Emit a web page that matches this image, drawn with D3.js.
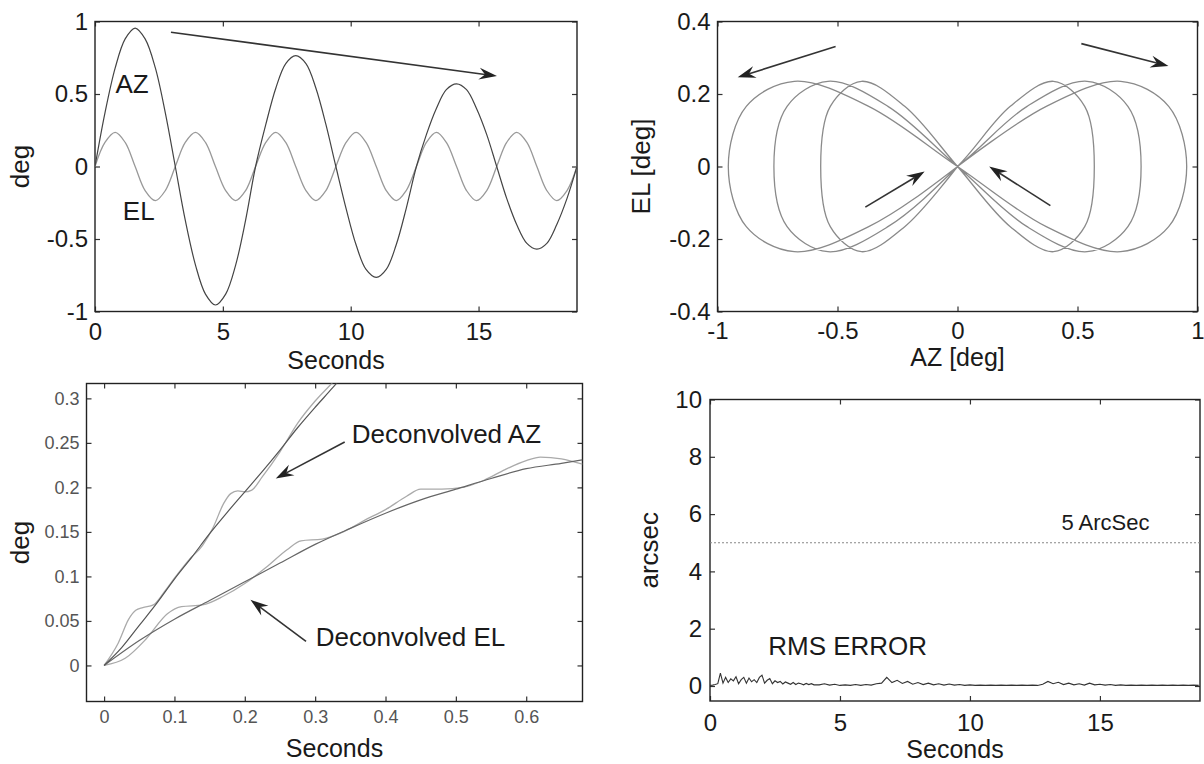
<!DOCTYPE html>
<html>
<head>
<meta charset="utf-8">
<script src="https://cdn.jsdelivr.net/npm/d3@7"></script>
<style>
  body { margin: 0; background: #fff; }
  svg { display: block; }
</style>
</head>
<body>
<svg width="1204" height="764"></svg>
<script>
// --- top panels: AZ / EL command, sampled every pi/8 s ---
var cmdTime = [0, 0.39, 0.79, 1.18, 1.57, 1.96, 2.36, 2.75, 3.14, 3.53, 3.93, 4.32, 4.71, 5.11, 5.50, 5.89,
    6.28, 6.68, 7.07, 7.46, 7.85, 8.25, 8.64, 9.03, 9.42, 9.82, 10.21, 10.60, 11.00, 11.39, 11.78, 12.17,
    12.57, 12.96, 13.35, 13.74, 14.14, 14.53, 14.92, 15.32, 15.71, 16.10, 16.49, 16.89, 17.28, 17.67, 18.06, 18.46, 18.85];
var cmdAZ = [0, 0.37, 0.68, 0.88, 0.955, 0.88, 0.68, 0.37, 0, -0.37, -0.68, -0.88, -0.955, -0.88, -0.68, -0.37,
    0, 0.29, 0.54, 0.71, 0.765, 0.71, 0.54, 0.29, 0, -0.29, -0.54, -0.71, -0.765, -0.71, -0.54, -0.29,
    0, 0.22, 0.40, 0.53, 0.57, 0.53, 0.40, 0.22, 0, -0.22, -0.40, -0.53, -0.57, -0.53, -0.40, -0.22, 0];
var cmdEL = [0, 0.166, 0.235, 0.166, 0, -0.166, -0.235, -0.166, 0, 0.166, 0.235, 0.166, 0, -0.166, -0.235, -0.166,
    0, 0.166, 0.235, 0.166, 0, -0.166, -0.235, -0.166, 0, 0.166, 0.235, 0.166, 0, -0.166, -0.235, -0.166,
    0, 0.166, 0.235, 0.166, 0, -0.166, -0.235, -0.166, 0, 0.166, 0.235, 0.166, 0, -0.166, -0.235, -0.166, 0];

// --- bottom left: deconvolved responses (two traces each) ---
var azDarkT = [0, 0.025, 0.05, 0.075, 0.1, 0.125, 0.15, 0.175, 0.2, 0.225, 0.25, 0.275, 0.3, 0.325, 0.35];
var azDarkV = [0, 0.02, 0.045, 0.07, 0.097, 0.122, 0.148, 0.172, 0.195, 0.218, 0.242, 0.267, 0.29, 0.312, 0.335];
var azLightT = [0, 0.02, 0.035, 0.045, 0.055, 0.07, 0.085, 0.1, 0.12, 0.14, 0.155, 0.17, 0.18, 0.19, 0.2, 0.21, 0.225, 0.25, 0.275, 0.3, 0.325, 0.35];
var azLightV = [0, 0.025, 0.052, 0.062, 0.065, 0.068, 0.082, 0.098, 0.118, 0.135, 0.155, 0.182, 0.193, 0.196, 0.195, 0.197, 0.212, 0.24, 0.272, 0.297, 0.318, 0.34];
var elDarkT = [0, 0.05, 0.1, 0.15, 0.2, 0.25, 0.3, 0.35, 0.4, 0.45, 0.5, 0.55, 0.6, 0.65, 0.68];
var elDarkV = [0, 0.028, 0.052, 0.073, 0.094, 0.115, 0.136, 0.154, 0.171, 0.186, 0.198, 0.21, 0.221, 0.227, 0.231];
var elLightT = [0, 0.03, 0.06, 0.09, 0.11, 0.14, 0.17, 0.2, 0.23, 0.26, 0.28, 0.31, 0.34, 0.37, 0.4, 0.43, 0.45, 0.48, 0.51, 0.54, 0.57, 0.6, 0.62, 0.65, 0.68];
var elLightV = [0, 0.008, 0.03, 0.058, 0.066, 0.068, 0.078, 0.092, 0.11, 0.13, 0.14, 0.142, 0.15, 0.163, 0.175, 0.19, 0.198, 0.198, 0.2, 0.208, 0.22, 0.23, 0.234, 0.232, 0.226];

// --- bottom right: rms error (arcsec), 0.1 s steps at the start then 0.2 s ---
var rmsTime = [0, 0.1, 0.2, 0.3, 0.4, 0.5, 0.6, 0.7, 0.8, 0.9, 1.0, 1.1, 1.2, 1.3, 1.4, 1.5, 1.6, 1.7, 1.8, 1.9,
    2.0, 2.1, 2.2, 2.3, 2.4, 2.5, 2.6, 2.7, 2.8, 2.9, 3.0, 3.1, 3.2, 3.3, 3.4, 3.5, 3.6, 3.7, 3.8, 3.9, 4.0,
    4.2, 4.4, 4.6, 4.8, 5.0, 5.2, 5.4, 5.6, 5.8, 6.0, 6.2, 6.4, 6.6, 6.8, 7.0, 7.2, 7.4, 7.6, 7.8,
    8.0, 8.2, 8.4, 8.6, 8.8, 9.0, 9.2, 9.4, 9.6, 9.8, 10.0, 10.2, 10.4, 10.6, 10.8, 11.0, 11.2, 11.4, 11.6, 11.8,
    12.0, 12.2, 12.4, 12.6, 12.8, 13.0, 13.2, 13.4, 13.6, 13.8, 14.0, 14.2, 14.4, 14.6, 14.8, 15.0, 15.2, 15.4, 15.6, 15.8,
    16.0, 16.2, 16.4, 16.6, 16.8, 17.0, 17.2, 17.4, 17.6, 17.8, 18.0, 18.2, 18.4, 18.6, 18.8];
var rmsVal = [0.02, 0.03, 0.05, 0.08, 0.45, 0.10, 0.30, 0.12, 0.25, 0.18, 0.32, 0.08, 0.22, 0.30, 0.10, 0.28, 0.15, 0.22, 0.12, 0.30,
    0.38, 0.10, 0.20, 0.26, 0.08, 0.18, 0.12, 0.16, 0.07, 0.14, 0.10, 0.06, 0.12, 0.05, 0.10, 0.08, 0.04, 0.09, 0.05, 0.08, 0.04,
    0.04, 0.08, 0.03, 0.06, 0.02, 0.04, 0.02, 0.05, 0.02, 0.05, 0.03, 0.08, 0.10, 0.30, 0.12, 0.20, 0.09, 0.16, 0.06,
    0.12, 0.05, 0.10, 0.04, 0.08, 0.03, 0.07, 0.03, 0.05, 0.02, 0.04, 0.02, 0.03, 0.02, 0.03, 0.02, 0.03, 0.02, 0.03, 0.02,
    0.03, 0.02, 0.03, 0.02, 0.06, 0.16, 0.08, 0.13, 0.05, 0.10, 0.04, 0.08, 0.03, 0.10, 0.04, 0.06, 0.03, 0.05, 0.02, 0.04,
    0.02, 0.03, 0.02, 0.03, 0.02, 0.03, 0.02, 0.03, 0.02, 0.03, 0.02, 0.03, 0.02, 0.03, 0.02];
var limitArcsec = 5;

// tick labels
var secTicks = [0, 5, 10, 15];
var degTicks = [-1, -0.5, 0, 0.5, 1];
var azTicks = [-1, -0.5, 0, 0.5, 1];
var elTicks = [-0.4, -0.2, 0, 0.2, 0.4];
var decSecTicks = [0, 0.1, 0.2, 0.3, 0.4, 0.5, 0.6];
var decDegTicks = [0, 0.05, 0.1, 0.15, 0.2, 0.25, 0.3];
var arcTicks = [0, 2, 4, 6, 8, 10];


var svg = d3.select("svg"),
    font = '"Liberation Sans", Arial, Helvetica, sans-serif';

function makePanel(p) {
    var g = svg.append("g");
    var x = d3.scaleLinear().domain(p.xDomain).range([p.left, p.right]);
    var y = d3.scaleLinear().domain(p.yDomain).range([p.bottom, p.top]);
    var fmt = p.format || function(d) { return String(d); };

    g.append("clipPath").attr("id", p.id + "-clip")
        .append("rect")
        .attr("x", p.left).attr("y", p.top)
        .attr("width", p.right - p.left).attr("height", p.bottom - p.top);

    // matlab style, ticks inward on all four sides
    g.append("g").attr("transform", "translate(0," + p.bottom + ")")
        .call(d3.axisBottom(x).tickValues(p.xTicks).tickSize(-5).tickPadding(p.xPad).tickFormat(fmt));
    g.append("g").attr("transform", "translate(0," + p.top + ")")
        .call(d3.axisTop(x).tickValues(p.xTicks).tickSize(-5).tickFormat(""));
    g.append("g").attr("transform", "translate(" + p.left + ",0)")
        .call(d3.axisLeft(y).tickValues(p.yTicks).tickSize(-5).tickPadding(p.yPad).tickFormat(fmt));
    g.append("g").attr("transform", "translate(" + p.right + ",0)")
        .call(d3.axisRight(y).tickValues(p.yTicks).tickSize(-5).tickFormat(""));

    g.selectAll(".domain").remove();
    g.selectAll(".tick line").attr("stroke", "#333").attr("stroke-width", 1.2);
    g.selectAll(".tick text")
        .attr("font-family", font)
        .attr("font-size", p.tickFont)
        .attr("fill", p.tickColor);

    g.append("rect")
        .attr("x", p.left).attr("y", p.top)
        .attr("width", p.right - p.left).attr("height", p.bottom - p.top)
        .attr("fill", "none")
        .attr("stroke", "#222")
        .attr("stroke-width", 1.4);

    g.append("text")
        .attr("x", (p.left + p.right) / 2)
        .attr("y", p.xLabelY)
        .attr("text-anchor", "middle")
        .attr("font-family", font).attr("font-size", 25).attr("fill", "#1a1a1a")
        .text(p.xLabel);

    g.append("text")
        .attr("transform", "translate(" + p.yLabelX + "," + ((p.top + p.bottom) / 2) + ") rotate(-90)")
        .attr("text-anchor", "middle")
        .attr("font-family", font).attr("font-size", 26).attr("fill", "#1a1a1a")
        .text(p.yLabel);

    var plot = g.append("g").attr("clip-path", "url(#" + p.id + "-clip)");
    return { g: g, plot: plot, x: x, y: y };
}

function drawLine(panel, xs, ys, color, width, curve) {
    panel.plot.append("path")
        .datum(d3.range(xs.length))
        .attr("fill", "none")
        .attr("stroke", color)
        .attr("stroke-width", width)
        .attr("d", d3.line()
            .x(function(i) { return panel.x(xs[i]); })
            .y(function(i) { return panel.y(ys[i]); })
            .curve(curve || d3.curveCatmullRom));
}

function arrow(panel, x1, y1, x2, y2) {
    var ax = panel.x(x1), ay = panel.y(y1), bx = panel.x(x2), by = panel.y(y2);
    var a = Math.atan2(by - ay, bx - ax), c = Math.cos(a), s = Math.sin(a);
    var L = 18, W = 6, back = 12;
    panel.g.append("line")
        .attr("x1", ax).attr("y1", ay)
        .attr("x2", bx - back * c).attr("y2", by - back * s)
        .attr("stroke", "#333").attr("stroke-width", 1.6);
    var pts = [
        [bx, by],
        [bx - L * c - W * s, by - L * s + W * c],
        [bx - back * c, by - back * s],
        [bx - L * c + W * s, by - L * s - W * c]
    ];
    panel.g.append("polygon")
        .attr("points", pts.map(function(d) { return d.join(","); }).join(" "))
        .attr("fill", "#222");
}

function note(panel, x, y, txt, size) {
    panel.g.append("text")
        .attr("x", panel.x(x)).attr("y", panel.y(y))
        .attr("font-family", font).attr("font-size", size).attr("fill", "#1a1a1a")
        .text(txt);
}

// ---- panel 1: AZ and EL vs time
var p1 = makePanel({
    id: "p1", left: 95, right: 577, top: 21.5, bottom: 311.5,
    xDomain: [0, 18.85], yDomain: [-1, 1],
    xTicks: secTicks, yTicks: degTicks, xPad: 11, yPad: 7,
    tickFont: 24, tickColor: "#1a1a1a",
    xLabel: "Seconds", xLabelY: 369, yLabel: "deg", yLabelX: 29
});
drawLine(p1, cmdTime, cmdEL, "#999", 1.3);
drawLine(p1, cmdTime, cmdAZ, "#444", 1.2);
note(p1, 0.8, 0.51, "AZ", 26);
note(p1, 1.09, -0.37, "EL", 26);
arrow(p1, 2.97, 0.926, 15.72, 0.624);

// ---- panel 2: EL vs AZ figure eight
var p2 = makePanel({
    id: "p2", left: 717.5, right: 1197.5, top: 21.5, bottom: 311.5,
    xDomain: [-1, 1], yDomain: [-0.4, 0.4],
    xTicks: azTicks, yTicks: elTicks, xPad: 10, yPad: 7,
    tickFont: 24, tickColor: "#1a1a1a",
    xLabel: "AZ [deg]", xLabelY: 366, yLabel: "EL [deg]", yLabelX: 650
});
drawLine(p2, cmdAZ, cmdEL, "#8a8a8a", 1.3);
arrow(p2, -0.508, 0.331, -0.916, 0.246);
arrow(p2, 0.516, 0.339, 0.879, 0.277);
arrow(p2, -0.384, -0.112, -0.137, -0.014);
arrow(p2, 0.387, -0.108, 0.132, 0.0);

// ---- panel 3: deconvolved
var p3 = makePanel({
    id: "p3", left: 86.5, right: 582.5, top: 383.5, bottom: 701.5,
    xDomain: [-0.025, 0.68], yDomain: [-0.0405, 0.3167],
    xTicks: decSecTicks, yTicks: decDegTicks, xPad: 9, yPad: 7,
    format: function(d) { return String(+d.toFixed(2)); },
    tickFont: 18, tickColor: "#555",
    xLabel: "Seconds", xLabelY: 757, yLabel: "deg", yLabelX: 29
});
drawLine(p3, elLightT, elLightV, "#aaa", 1.3, d3.curveMonotoneX);
drawLine(p3, elDarkT, elDarkV, "#666", 1.2, d3.curveMonotoneX);
drawLine(p3, azLightT, azLightV, "#aaa", 1.3, d3.curveMonotoneX);
drawLine(p3, azDarkT, azDarkV, "#555", 1.2, d3.curveMonotoneX);
note(p3, 0.352, 0.25, "Deconvolved AZ", 26);
note(p3, 0.301, 0.0213, "Deconvolved EL", 26);
arrow(p3, 0.342, 0.251, 0.244, 0.21);
arrow(p3, 0.287, 0.027, 0.208, 0.0737);

// ---- panel 4: rms error
var p4 = makePanel({
    id: "p4", left: 710, right: 1200, top: 399.5, bottom: 701,
    xDomain: [0, 18.85], yDomain: [-0.524, 10],
    xTicks: secTicks, yTicks: arcTicks, xPad: 13, yPad: 8,
    tickFont: 24, tickColor: "#1a1a1a",
    xLabel: "Seconds", xLabelY: 758, yLabel: "arcsec", yLabelX: 658
});
p4.plot.append("line")
    .attr("x1", p4.x(0)).attr("x2", p4.x(18.85))
    .attr("y1", p4.y(limitArcsec)).attr("y2", p4.y(limitArcsec))
    .attr("stroke", "#888").attr("stroke-width", 1.2)
    .attr("stroke-dasharray", "2,2");
drawLine(p4, rmsTime, rmsVal, "#333", 1.1, d3.curveLinear);
note(p4, 13.52, 5.44, "5 ArcSec", 22);
note(p4, 2.24, 1.08, "RMS ERROR", 26);
</script>
</body>
</html>
